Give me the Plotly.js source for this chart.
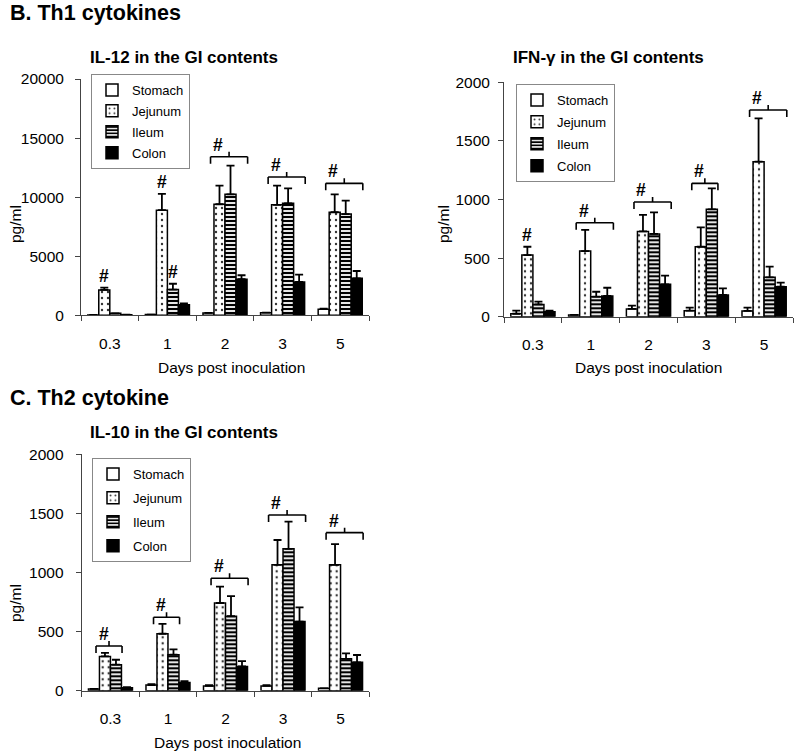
<!DOCTYPE html>
<html>
<head>
<meta charset="utf-8">
<script src="https://cdn.plot.ly/plotly-3.0.1.min.js"></script>
<style>html,body{margin:0;padding:0;background:#fff;}#chart{width:800px;height:755px;}</style>
</head>
<body>
<div id="chart"></div>
<script>
// ---------- data ----------
const days = ['0.3', '1', '2', '3', '5'];
const tissues = ['Stomach', 'Jejunum', 'Ileum', 'Colon'];

// IL-12 (pg/ml)
const il12Stomach = [30, 60, 200, 220, 520];
const il12Jejunum = [2150, 8900, 9400, 9350, 8720];
const il12Ileum   = [170, 2180, 10240, 9480, 8570];
const il12Colon   = [50, 900, 3050, 2820, 3130];
const il12StomachErr = [0, 0, 0, 0, 40];
const il12JejunumErr = [185, 1380, 1575, 1630, 1520];
const il12IleumErr   = [0, 490, 2420, 1260, 1130];
const il12ColonErr   = [0, 110, 340, 620, 620];
const il12HashDay = [0, 1, 1];
const il12HashSeries = [1, 1, 2];
const il12BracketDay = [2, 3, 4];
const il12BracketFrom = [1, 1, 1];
const il12BracketTo = [3, 3, 3];
const il12BracketLevel = [13420, 11700, 11170];

// IFN-gamma (pg/ml)
const ifnStomach = [25, 15, 66, 51, 49];
const ifnJejunum = [526, 560, 728, 597, 1323];
const ifnIleum   = [105, 171, 706, 916, 336];
const ifnColon   = [43, 177, 276, 185, 256];
const ifnStomachErr = [26, 0, 28, 26, 28];
const ifnJejunumErr = [71, 180, 140, 165, 370];
const ifnIleumErr   = [23, 42, 184, 179, 91];
const ifnColonErr   = [8, 70, 74, 57, 34];
const ifnHashDay = [0];
const ifnHashSeries = [1];
const ifnBracketDay = [1, 2, 3, 4];
const ifnBracketFrom = [1, 1, 1, 1];
const ifnBracketTo = [3, 3, 2, 3];
const ifnBracketLevel = [802, 979, 1138, 1764];

// IL-10 (pg/ml)
const il10Stomach = [15, 48, 40, 40, 20];
const il10Jejunum = [290, 482, 742, 1065, 1065];
const il10Ileum   = [220, 305, 630, 1200, 270];
const il10Colon   = [25, 70, 205, 585, 240];
const il10StomachErr = [0, 8, 8, 8, 0];
const il10JejunumErr = [30, 83, 138, 210, 175];
const il10IleumErr   = [42, 45, 170, 230, 45];
const il10ColonErr   = [5, 10, 45, 120, 62];
const il10HashDay = [];
const il10HashSeries = [];
const il10BracketDay = [0, 1, 2, 3, 4];
const il10BracketFrom = [1, 1, 1, 1, 1];
const il10BracketTo = [2, 2, 3, 3, 3];
const il10BracketLevel = [378, 621, 951, 1487, 1337];

// ---------- styling ----------
const W = 800, H = 755;
const FONT = 'Arial, "Liberation Sans", sans-serif';
const BAR_GAP = 0.235;
const BW = (1 - BAR_GAP) / 4;
const px = v => v / W;
const py = v => 1 - v / H;

const styles = [
  {color: 'white', pattern: {shape: ''}},
  {color: 'white', pattern: {shape: '.', fgcolor: '#333', bgcolor: 'white', size: 6, solidity: 0.12}},
  {color: 'white', pattern: {shape: '-', fgcolor: 'black', bgcolor: '#e6e6e6', size: 4, solidity: 0.5}},
  {color: 'black', pattern: {shape: ''}}
];

const panels = [
  {key: 'il12', xa: 'x', ya: 'y', legend: 'legend',
   vals: [il12Stomach, il12Jejunum, il12Ileum, il12Colon],
   errs: [il12StomachErr, il12JejunumErr, il12IleumErr, il12ColonErr],
   hashDay: il12HashDay, hashSeries: il12HashSeries,
   bDay: il12BracketDay, bFrom: il12BracketFrom, bTo: il12BracketTo, bLevel: il12BracketLevel,
   xdom: [81, 369], ydom: [79, 315.3], yr: [0, 20000], dtick: 5000, ystand: 8,
   title: 'IL-12 in the GI contents', titleX: 184, titleY: 57,
   ytitleX: 15, ytitleY: 224, xtitleX: 232, xtitleY: 367,
   leg: {x: 91, y: 74, gap: 1}},
  {key: 'ifn', xa: 'x2', ya: 'y2', legend: 'legend2',
   vals: [ifnStomach, ifnJejunum, ifnIleum, ifnColon],
   errs: [ifnStomachErr, ifnJejunumErr, ifnIleumErr, ifnColonErr],
   hashDay: ifnHashDay, hashSeries: ifnHashSeries,
   bDay: ifnBracketDay, bFrom: ifnBracketFrom, bTo: ifnBracketTo, bLevel: ifnBracketLevel,
   xdom: [504, 793], ydom: [82.3, 316.7], yr: [0, 2000], dtick: 500, ystand: 5,
   title: 'IFN-\u03b3 in the GI contents', titleX: 608, titleY: 57,
   ytitleX: 443, ytitleY: 224, xtitleX: 648, xtitleY: 368,
   leg: {x: 516, y: 84, gap: 2}},
  {key: 'il10', xa: 'x3', ya: 'y3', legend: 'legend3',
   vals: [il10Stomach, il10Jejunum, il10Ileum, il10Colon],
   errs: [il10StomachErr, il10JejunumErr, il10IleumErr, il10ColonErr],
   hashDay: il10HashDay, hashSeries: il10HashSeries,
   bDay: il10BracketDay, bFrom: il10BracketFrom, bTo: il10BracketTo, bLevel: il10BracketLevel,
   xdom: [81.7, 369.3], ydom: [454.3, 690.7], yr: [0, 2000], dtick: 500, ystand: 9,
   title: 'IL-10 in the GI contents', titleX: 184, titleY: 432,
   ytitleX: 15, ytitleY: 603, xtitleX: 228, xtitleY: 742,
   leg: {x: 92, y: 458, gap: 4}}
];

const traces = [];
const shapes = [];
const annotations = [];
const layout = {
  width: W, height: H, margin: {l: 0, r: 0, t: 0, b: 0},
  paper_bgcolor: 'white', plot_bgcolor: 'white',
  barmode: 'group', bargap: BAR_GAP, bargroupgap: 0,
  font: {family: FONT, color: 'black'},
  showlegend: true
};

const xIdx = days.map((d, i) => i);

panels.forEach(p => {
  const axN = p.xa === 'x' ? '' : p.xa.slice(1);
  tissues.forEach((t, s) => {
    traces.push({
      type: 'bar', name: t, x: xIdx, y: p.vals[s],
      xaxis: p.xa, yaxis: p.ya, legend: p.legend, legendgroup: p.key + t,
      marker: {color: styles[s].color, pattern: styles[s].pattern, line: {color: 'black', width: 1.5}},
      error_y: {type: 'data', symmetric: false, array: p.errs[s], arrayminus: p.errs[s].map(() => 0),
                color: 'black', thickness: 1.8, width: 4},
      hoverinfo: 'x+y+name'
    });
  });

  layout['xaxis' + axN] = {
    domain: [px(p.xdom[0]), px(p.xdom[1])], anchor: p.ya, range: [-0.5, 4.5],
    tickmode: 'array', tickvals: xIdx, ticktext: days, ticks: '',
    ticklabelstandoff: 14, tickfont: {size: 15.5, family: FONT},
    showline: true, linecolor: '#444', linewidth: 1, showgrid: false, zeroline: false, fixedrange: true,
    minor: {tickmode: 'array', tickvals: days.map((d, i) => i - 0.5).concat([days.length - 0.5]),
            ticks: 'outside', ticklen: 5, tickcolor: '#444', tickwidth: 1, showgrid: false}
  };
  layout['yaxis' + axN] = {
    domain: [py(p.ydom[1]), py(p.ydom[0])], anchor: p.xa, range: p.yr,
    tickmode: 'linear', tick0: 0, dtick: p.dtick, ticks: 'outside', ticklen: 5, tickcolor: '#444',
    tickformat: 'd', exponentformat: 'none', separatethousands: false,
    ticklabelstandoff: p.ystand, tickfont: {size: 15.5, family: FONT},
    showline: true, linecolor: '#444', linewidth: 1, showgrid: false, zeroline: false, fixedrange: true
  };
  layout[p.legend] = {
    x: px(p.leg.x), y: py(p.leg.y), xanchor: 'left', yanchor: 'top',
    bgcolor: 'white', bordercolor: '#888', borderwidth: 1,
    font: {size: 13, family: FONT}, itemwidth: 30, tracegroupgap: p.leg.gap, traceorder: 'grouped'
  };

  // units per pixel for this panel
  const upp = (p.yr[1] - p.yr[0]) / (p.ydom[1] - p.ydom[0]);
  const xupp = 5 / (p.xdom[1] - p.xdom[0]);

  // single # marks
  p.hashDay.forEach((d, k) => {
    const s = p.hashSeries[k];
    annotations.push({
      xref: p.xa, yref: p.ya, x: d + (s - 1.5) * BW, y: p.vals[s][d] + p.errs[s][d],
      text: '<b>#</b>', showarrow: false, yanchor: 'middle', xanchor: 'center', yshift: 12,
      font: {size: 17.5, family: FONT}
    });
  });

  // brackets with #
  p.bDay.forEach((d, k) => {
    const left = d + (p.bFrom[k] - 2) * BW - 0.06;
    const right = d + (p.bTo[k] - 1) * BW + 0.01;
    const lv = p.bLevel[k];
    const mid = (left + right) / 2;
    const ln = {color: 'black', width: 1.6};
    const base = {type: 'line', xref: p.xa, yref: p.ya, line: ln};
    shapes.push(Object.assign({}, base, {x0: left, x1: right, y0: lv, y1: lv}));
    shapes.push(Object.assign({}, base, {x0: left, x1: left, y0: lv, y1: lv - 7 * upp}));
    shapes.push(Object.assign({}, base, {x0: right, x1: right, y0: lv, y1: lv - 7 * upp}));
    shapes.push(Object.assign({}, base, {x0: mid, x1: mid, y0: lv, y1: lv + 5 * upp}));
    annotations.push({
      xref: p.xa, yref: p.ya, x: left + 7.5 * xupp, y: lv,
      text: '<b>#</b>', showarrow: false, yanchor: 'middle', xanchor: 'center', yshift: 12,
      font: {size: 17.5, family: FONT}
    });
  });

  // titles
  annotations.push({xref: 'paper', yref: 'paper', x: px(p.titleX), y: py(p.titleY), text: '<b>' + p.title + '</b>',
    showarrow: false, xanchor: 'center', yanchor: 'middle', font: {size: 17, family: FONT}});
  annotations.push({xref: 'paper', yref: 'paper', x: px(p.ytitleX), y: py(p.ytitleY), text: 'pg/ml',
    showarrow: false, textangle: -90, xanchor: 'center', yanchor: 'middle', font: {size: 15.5, family: FONT}});
  annotations.push({xref: 'paper', yref: 'paper', x: px(p.xtitleX), y: py(p.xtitleY), text: 'Days post inoculation',
    showarrow: false, xanchor: 'center', yanchor: 'middle', font: {size: 15.5, family: FONT}});
});

// section headings
annotations.push({xref: 'paper', yref: 'paper', x: px(8), y: py(13), text: '<b>B. Th1 cytokines</b>',
  showarrow: false, xanchor: 'left', yanchor: 'middle', font: {size: 21.5, family: FONT}});
annotations.push({xref: 'paper', yref: 'paper', x: px(8), y: py(398), text: '<b>C. Th2 cytokine</b>',
  showarrow: false, xanchor: 'left', yanchor: 'middle', font: {size: 21.5, family: FONT}});

layout.shapes = shapes;
layout.annotations = annotations;

Plotly.newPlot('chart', traces, layout, {displayModeBar: false, staticPlot: false});
</script>
</body>
</html>
